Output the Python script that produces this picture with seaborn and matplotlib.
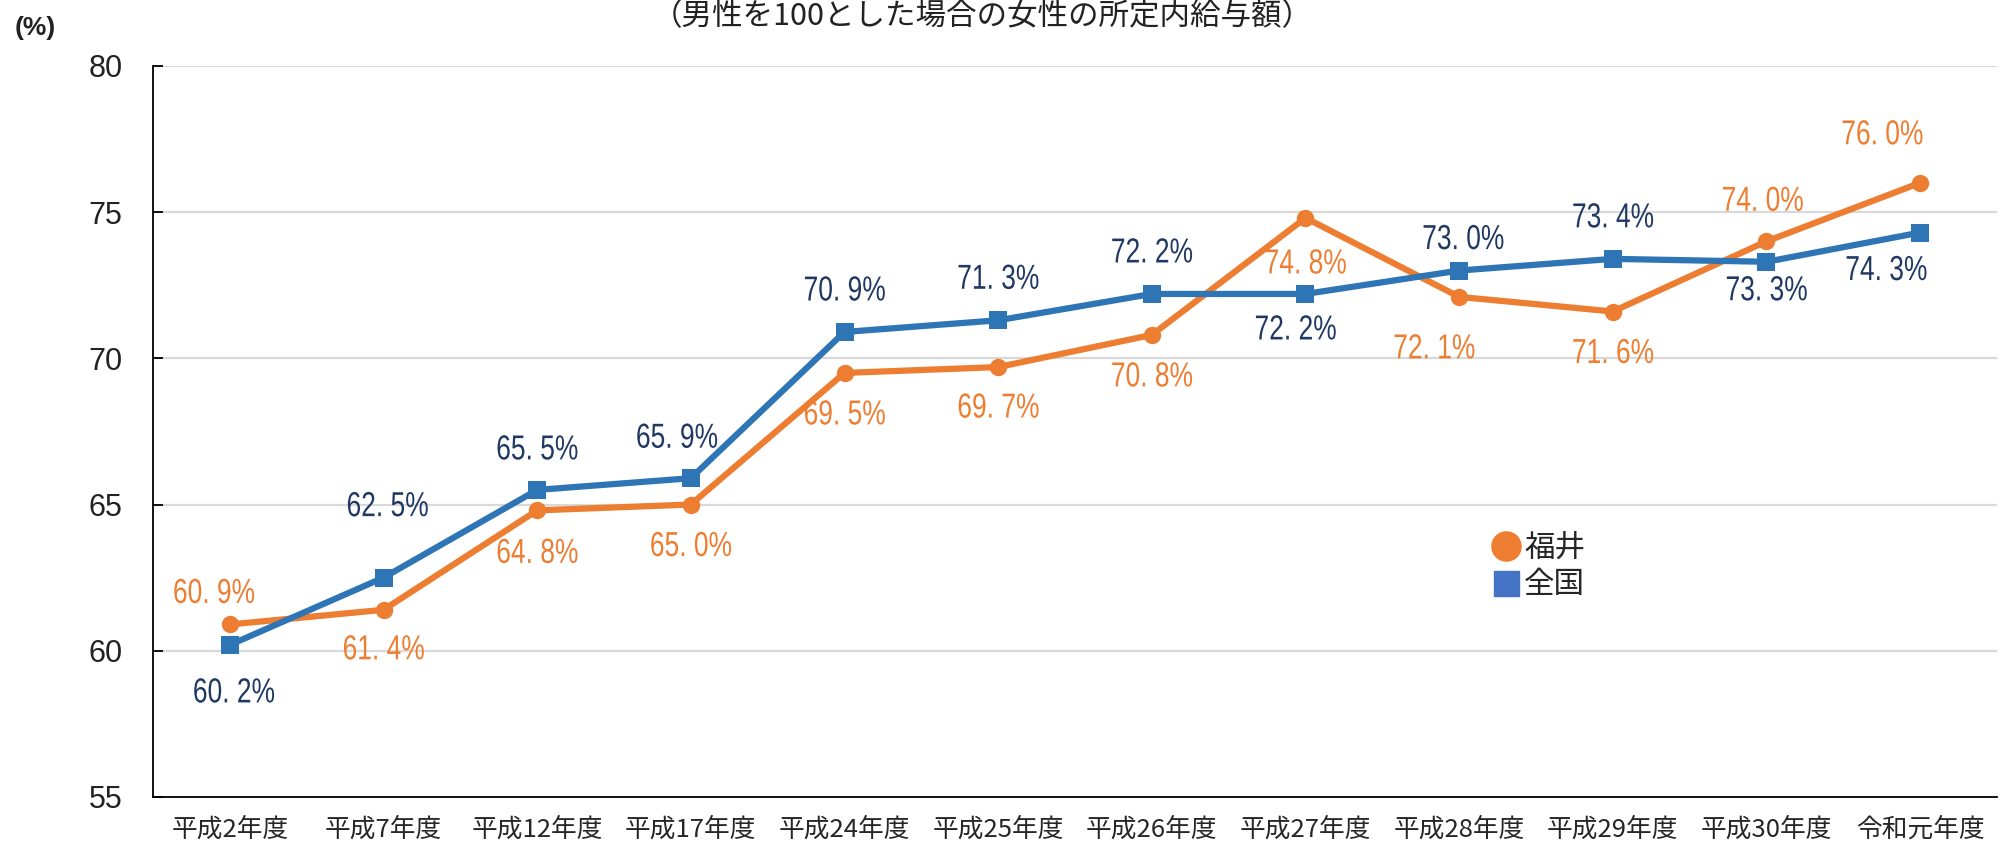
import numpy as np
import pandas as pd
import matplotlib.pyplot as plt
import matplotlib.patheffects as pe
from matplotlib.lines import Line2D
from matplotlib.transforms import Affine2D
import seaborn as sns

# data
years = ['平成2年度', '平成7年度', '平成12年度', '平成17年度', '平成24年度', '平成25年度',
         '平成26年度', '平成27年度', '平成28年度', '平成29年度', '平成30年度', '令和元年度']
fukui = [60.9, 61.4, 64.8, 65.0, 69.5, 69.7, 70.8, 74.8, 72.1, 71.6, 74.0, 76.0]
zenkoku = [60.2, 62.5, 65.5, 65.9, 70.9, 71.3, 72.2, 72.2, 73.0, 73.4, 73.3, 74.3]
yticks = [55, 60, 65, 70, 75, 80]
title = '（男性を100とした場合の女性の所定内給与額）'

# label offsets in pixels (dx, dy), dy positive = up
fukui_off = [(-16, 31), (0, -40), (0, -43), (0, -42), (0, -42), (0, -41),
             (0, -42), (0, -46), (-25, -52), (0, -42), (-4, 40), (-38, 48)]
zenkoku_off = [(4, -48), (4, 71), (0, 40), (-14, 40), (0, 41), (0, 41),
               (0, 41), (-10, -36), (4, 31), (0, 41), (0, -29), (-34, -38)]

ORANGE = '#ED7D31'
BLUE = '#2E75B6'
NAVY = '#1F3864'


class Squeeze(pe.AbstractPathEffect):
    """Narrow the text glyphs horizontally around their centre."""

    def __init__(self, sx=0.75):
        super().__init__()
        self.sx = sx

    def draw_path(self, renderer, gc, tpath, affine, rgbFace=None):
        ext = tpath.get_extents()
        cx = (ext.x0 + ext.x1) / 2
        squeeze = Affine2D().translate(-cx, 0).scale(self.sx, 1).translate(cx, 0)
        renderer.draw_path(gc, tpath, squeeze + affine, rgbFace)


sns.set_theme(style='white')
plt.rcParams['font.family'] = ['Liberation Sans', 'Noto Sans CJK JP', 'DejaVu Sans']

df = pd.DataFrame({'pos': np.arange(len(years)), 'year': years,
                   '福井': fukui, '全国': zenkoku})

fig = plt.figure(figsize=(20, 8.44), dpi=100)
ax = fig.add_axes([0.0765, 0.0557, 0.922, 0.8663])

sns.lineplot(data=df, x='pos', y='福井', ax=ax, color=ORANGE, linewidth=4.5,
             marker='o', markersize=12.5, markeredgewidth=0, sort=False, zorder=3)
sns.lineplot(data=df, x='pos', y='全国', ax=ax, color=BLUE, linewidth=4.5,
             marker='s', markersize=12.5, markeredgewidth=0, sort=False, zorder=4)

for vals, offs, col in [(fukui, fukui_off, ORANGE), (zenkoku, zenkoku_off, NAVY)]:
    for i, v in enumerate(vals):
        ax.annotate(f'{v:.1f}'.replace('.', '. ') + '%', (i, v), xytext=offs[i],
                    textcoords='offset pixels', ha='center', va='center',
                    color=col, fontsize=25, zorder=5,
                    path_effects=[Squeeze(0.76)])

ax.set_xlim(-0.5, len(years) - 0.5)
ax.set_ylim(55, 80)
ax.set_yticks(yticks)
ax.set_yticklabels([str(t) for t in yticks], fontsize=22, color='#222222')
ax.set_xticks(np.arange(-0.5, len(years), 1))
ax.set_xticklabels([])
ax.set_xticks(np.arange(len(years)), minor=True)
ax.set_xticklabels(years, minor=True, fontsize=18.5, family=['Noto Sans CJK JP'])
ax.tick_params(axis='x', which='major', direction='in', length=8, width=1.3, color='black')
ax.tick_params(axis='x', which='minor', length=0, pad=14)
ax.tick_params(axis='y', which='major', direction='in', length=7, width=1.3,
               color='black', pad=22, left=True)
ax.set_xlabel('')
ax.set_ylabel('')

ax.yaxis.grid(True, color='#D9D9D9', linewidth=1.6)
ax.set_axisbelow(True)
for s in ['top', 'right']:
    ax.spines[s].set_visible(False)
for s in ['left', 'bottom']:
    ax.spines[s].set_color('black')
    ax.spines[s].set_linewidth(1.3)

handles = [Line2D([], [], color=ORANGE, marker='o', linestyle='none', markersize=21),
           Line2D([], [], color='#4472C4', marker='s', linestyle='none', markersize=18)]
leg = ax.legend(handles, ['福井', '全国'], loc='upper left', bbox_to_anchor=(0.727, 0.362),
                frameon=False, handlelength=0.8, handletextpad=0.2, labelspacing=0.2,
                borderpad=0, borderaxespad=0,
                prop={'family': ['Noto Sans CJK JP'], 'size': 22})

fig.text(0.491, 1 - 1 / 844, title, ha='center', va='top', fontsize=22,
         family=['Noto Sans CJK JP'], color='#222222')
fig.text(15 / 2000, 1 - 28 / 844, '(%)', ha='left', va='center', fontsize=19,
         fontweight='bold', color='#222222')

fig.savefig('out.png', dpi=100)
